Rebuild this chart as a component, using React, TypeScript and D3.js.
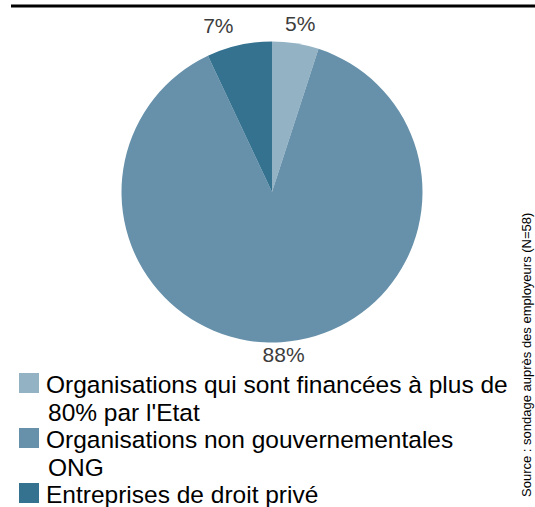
import React from 'react'
import * as d3 from 'd3'

// series
const categories = [
  "Organisations qui sont financées à plus de",
  "Organisations non gouvernementales",
  "Entreprises de droit privé",
]
const categoryLines2 = ["80% par l'Etat", "ONG", ""]
const values = [5, 88, 7]
const colors = ['#93b3c5', '#6791aa', '#34728f']
const sourceNote = 'Source : sondage auprès des employeurs (N=58)'

const W = 535
const H = 507
const FONT = "'Liberation Sans', Arial, sans-serif"

export default function App() {
  const cx = 272
  const cy = 192
  const r = 150.5

  const pie = d3.pie<number>().sort(null).value(d => d)
  const arcs = pie(values)
  const arc = d3.arc<d3.PieArcDatum<number>>().innerRadius(0).outerRadius(r)
  const labelArc = d3.arc<d3.PieArcDatum<number>>().innerRadius(168).outerRadius(168)

  // small nudges the way the original tool placed its outside labels
  const nudge = [[2, -3], [1, -5], [-17, -3]]

  // legend rows: each category can take one or two lines
  const lineH = 27.5
  let row = 0
  const legendRows = categories.map((c, i) => {
    const first = row
    row += categoryLines2[i] ? 2 : 1
    return { first, c, second: categoryLines2[i], color: colors[i] }
  })
  const base0 = 393

  return (
    <svg width={W} height={H} style={{ position: 'absolute', left: 0, top: 0, background: '#fff' }}
      fontFamily={FONT}>
      <line x1={11} x2={W} y1={6} y2={6} stroke="#000" strokeWidth={3} />

      <g transform={`translate(${cx},${cy})`}>
        {arcs.map((a, i) => (
          <path key={i} d={arc(a) || ''} fill={colors[i]} />
        ))}
        {arcs.map((a, i) => {
          const [x, y] = labelArc.centroid(a)
          return (
            <text key={'l' + i} x={x + nudge[i][0]} y={y + nudge[i][1]} textAnchor="middle"
              dominantBaseline="central" fontSize={21} fill="#3c3c3c">
              {d3.format('d')(a.data)}%
            </text>
          )
        })}
      </g>

      <g>
        {legendRows.map((lr, i) => {
          const b = base0 + lr.first * lineH
          return (
            <g key={i}>
              <rect x={19} y={b - 20} width={20} height={20} fill={lr.color} />
              <text x={46} y={b} fontSize={24.5} fill="#000">{lr.c}</text>
              {lr.second && (
                <text x={48} y={b + lineH} fontSize={24.5} fill="#000">{lr.second}</text>
              )}
            </g>
          )
        })}
      </g>

      <text transform="translate(531,497) rotate(-90)" fontSize={13} fill="#000">{sourceNote}</text>
    </svg>
  )
}
